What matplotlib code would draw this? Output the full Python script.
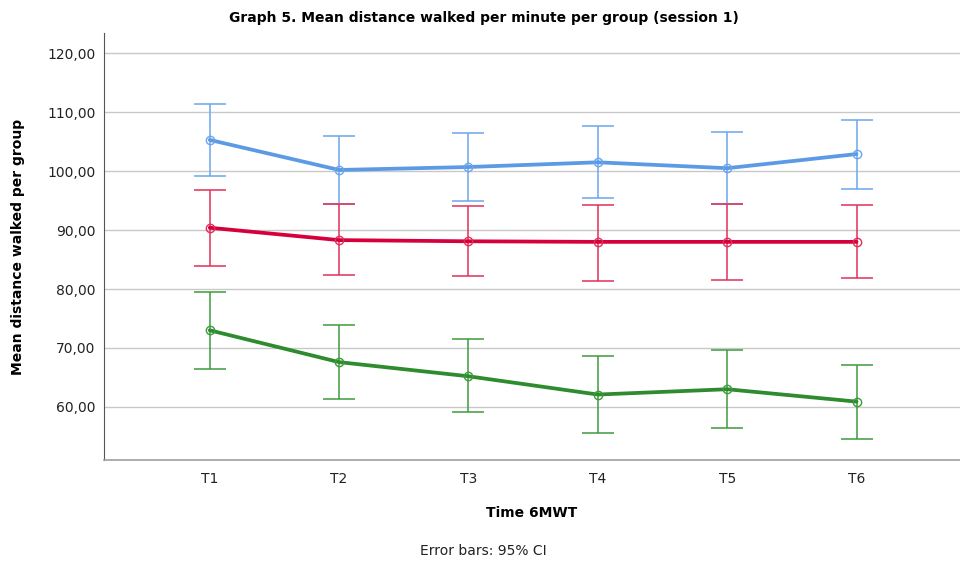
import numpy as np
import matplotlib
matplotlib.use("Agg")
import matplotlib.pyplot as plt

plt.rcParams['font.family'] = ['DejaVu Sans']

# Datos
time_points = ["T1", "T2", "T3", "T4", "T5", "T6"]

blue_mean = [105.3, 100.2, 100.7, 101.5, 100.5, 102.9]
blue_upper = [111.4, 105.9, 106.4, 107.6, 106.6, 108.6]
blue_lower = [99.2, 94.4, 94.9, 95.4, 94.4, 97.0]

red_mean = [90.4, 88.3, 88.1, 88.0, 88.0, 88.0]
red_upper = [96.8, 94.4, 94.1, 94.2, 94.4, 94.2]
red_lower = [83.9, 82.4, 82.2, 81.4, 81.5, 81.9]

green_mean = [73.0, 67.6, 65.2, 62.1, 63.0, 60.9]
green_upper = [79.5, 73.9, 71.5, 68.7, 69.6, 67.1]
green_lower = [66.4, 61.3, 59.1, 55.6, 56.4, 54.6]

y_ticks = [60, 70, 80, 90, 100, 110, 120]

series = [
    (blue_mean, blue_lower, blue_upper, '#5b9ae4', '#6aa6ee'),
    (red_mean, red_lower, red_upper, '#d6003c', '#e0305a'),
    (green_mean, green_lower, green_upper, '#2e8b2e', '#3d9a3d'),
]

fig = plt.figure(figsize=(9.6, 5.63), dpi=100)
ax = fig.add_axes([0.108, 0.183, 0.892, 0.758])

x = np.arange(1, len(time_points) + 1)
for mean, lower, upper, line_col, err_col in series:
    mean = np.array(mean)
    yerr = [mean - np.array(lower), np.array(upper) - mean]
    ax.errorbar(x, mean, yerr=yerr, fmt='none', ecolor=err_col,
                elinewidth=1.1, capsize=11.5, capthick=1.1, zorder=3)
    ax.plot(x, mean, color=line_col, linewidth=2.7, zorder=4,
            solid_capstyle='round')
    ax.plot(x, mean, linestyle='none', marker='o', markersize=6,
            markerfacecolor='none', markeredgecolor=err_col,
            markeredgewidth=1.0, zorder=5)

ax.set_xlim(0.18, 6.8)
ax.set_ylim(51.0, 123.4)
ax.set_xticks(x)
ax.set_xticklabels(time_points)
ax.set_yticks(y_ticks)
ax.set_yticklabels([f"{v:.2f}".replace('.', ',') for v in y_ticks])
ax.tick_params(axis='both', length=0, labelsize=10, colors='#222222')
ax.tick_params(axis='x', pad=9)
ax.tick_params(axis='y', pad=6)

ax.yaxis.grid(True, color='#c8c8c8', linewidth=1.0)
ax.set_axisbelow(True)
for side in ['top', 'right']:
    ax.spines[side].set_visible(False)
ax.spines['left'].set_color('#555555')
ax.spines['bottom'].set_color('#a0a0a0')
ax.spines['bottom'].set_linewidth(1.2)

fig.text(0.504, 0.968, "Graph 5. Mean distance walked per minute per group (session 1)",
         ha='center', va='center', fontsize=10, fontweight='bold')
ax.set_ylabel("Mean distance walked per group", fontsize=10,
              fontweight='bold', labelpad=16)
ax.set_xlabel("Time 6MWT", fontsize=10, fontweight='bold', labelpad=14)

fig.text(0.503, 0.021, "Error bars: 95% CI", ha='center', va='center',
         fontsize=10, color='#222222')

fig.savefig("out.png", dpi=100)
